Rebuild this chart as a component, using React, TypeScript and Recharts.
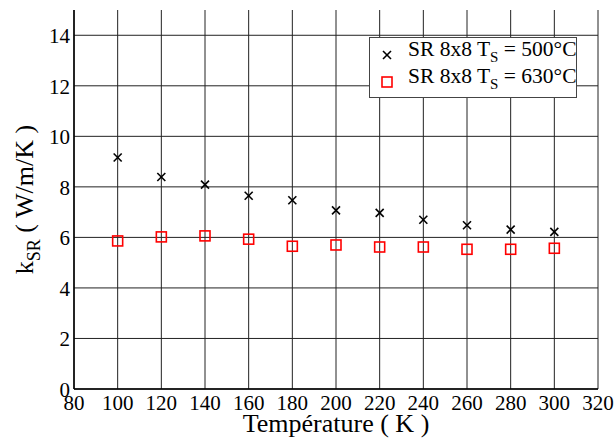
import React from "react";
import {
  ScatterChart, Scatter, XAxis, YAxis, CartesianGrid,
} from "recharts";

// Temperature (K)
const temps = [100, 120, 140, 160, 180, 200, 220, 240, 260, 280, 300];
// k_SR (W/m/K), Ts = 500°C
const k500 = [9.16, 8.39, 8.09, 7.65, 7.47, 7.07, 6.97, 6.7, 6.48, 6.31, 6.22];
// k_SR (W/m/K), Ts = 630°C
const k630 = [5.86, 6.02, 6.06, 5.93, 5.65, 5.7, 5.62, 5.62, 5.53, 5.53, 5.57];

const xTicks = [80, 100, 120, 140, 160, 180, 200, 220, 240, 260, 280, 300, 320];
const yTicks = [0, 2, 4, 6, 8, 10, 12, 14];

const FONT = "Liberation Serif, DejaVu Serif, serif";
const serif = { fontFamily: FONT };

const s500 = temps.map((t, i) => ({ t, k: k500[i] }));
const s630 = temps.map((t, i) => ({ t, k: k630[i] }));

const Cross = (props: any) => {
  const { cx, cy } = props;
  const r = 4;
  return (
    <g stroke="#000" strokeWidth={1.6}>
      <line x1={cx - r} y1={cy - r} x2={cx + r} y2={cy + r} />
      <line x1={cx - r} y1={cy + r} x2={cx + r} y2={cy - r} />
    </g>
  );
};

const Square = (props: any) => {
  const { cx, cy } = props;
  const h = 5;
  return (
    <rect x={cx - h} y={cy - h} width={2 * h} height={2 * h}
      fill="none" stroke="#ff0000" strokeWidth={1.6} />
  );
};

const XTick = (props: any) => {
  const { x, payload } = props;
  return (
    <text x={x} y={410} textAnchor="middle" fontSize={21} fill="#000" style={serif}>
      {payload.value}
    </text>
  );
};

const YTick = (props: any) => {
  const { y, payload } = props;
  return (
    <text x={70} y={y + 8} textAnchor="end" fontSize={21} fill="#000" style={serif}>
      {payload.value}
    </text>
  );
};

const YLabel = (props: any) => {
  const { viewBox } = props;
  const cy = viewBox.y + viewBox.height / 2;
  const x = 33;
  return (
    <text x={x} y={cy} transform={`rotate(-90 ${x} ${cy})`} textAnchor="middle"
      fontSize={26} fill="#000" style={serif}>
      k<tspan fontSize={18} dy={7}>SR</tspan>
      <tspan dy={-7}> ( W/m/K )</tspan>
    </text>
  );
};

const XLabel = (props: any) => {
  const { viewBox } = props;
  const cx = viewBox.x + viewBox.width / 2;
  return (
    <text x={cx} y={432} textAnchor="middle" fontSize={26} fill="#000" style={serif}>
      Température ( K )
    </text>
  );
};

const LegendRow = ({ marker, temp }: any) => (
  <div style={{ display: "flex", alignItems: "center", height: 27 }}>
    <svg width={34} height={27} style={{ flex: "none" }}>
      {marker === "x" ? <Cross cx={17} cy={15} /> : <Square cx={17} cy={15} />}
    </svg>
    <span style={{ marginLeft: 4, whiteSpace: "nowrap" }}>
      SR 8x8 T<sub style={{ fontSize: 15, verticalAlign: "-6px" }}>S</sub> = {temp}°C
    </span>
  </div>
);

const LegendBox = () => (
  <div style={{
    position: "absolute", left: 369, top: 37, width: 208, height: 61, boxSizing: "border-box",
    border: "1px solid #444", background: "#fff", padding: "2px 0 0 0",
    fontFamily: FONT, fontSize: 21.5, color: "#000", lineHeight: "27px",
  }}>
    <LegendRow marker="x" temp={500} />
    <LegendRow marker="sq" temp={630} />
  </div>
);

export default function App() {
  return (
    <div style={{ position: "absolute", left: 0, top: 0, width: 615, height: 442, background: "#fff", fontFamily: FONT }}>
      <ScatterChart width={615} height={442} margin={{ top: 10, right: 17, left: 0, bottom: 0 }}>
        <CartesianGrid stroke="#222" strokeWidth={1} horizontalValues={yTicks} verticalValues={xTicks} />
        <XAxis type="number" dataKey="t" domain={[80, 320]} ticks={xTicks} interval={0}
          allowDataOverflow tick={<XTick />} tickLine={false} height={53}
          axisLine={{ stroke: "#000", strokeWidth: 1.5 }}
          label={<XLabel />} />
        <XAxis xAxisId="top" orientation="top" type="number" domain={[80, 320]} height={0}
          tick={false} tickLine={false} axisLine={{ stroke: "#000", strokeWidth: 1.5 }} />
        <YAxis type="number" dataKey="k" domain={[0, 15]} ticks={yTicks} interval={0}
          allowDataOverflow tick={<YTick />} tickLine={false} width={74}
          axisLine={{ stroke: "#000", strokeWidth: 1.5 }}
          label={<YLabel />} />
        <YAxis yAxisId="right" orientation="right" type="number" domain={[0, 15]} width={0}
          tick={false} tickLine={false} axisLine={{ stroke: "#000", strokeWidth: 1.5 }} />
        <Scatter name="500" data={s500} shape={<Cross />} isAnimationActive={false} />
        <Scatter name="630" data={s630} shape={<Square />} isAnimationActive={false} />
      </ScatterChart>
      <LegendBox />
    </div>
  );
}
